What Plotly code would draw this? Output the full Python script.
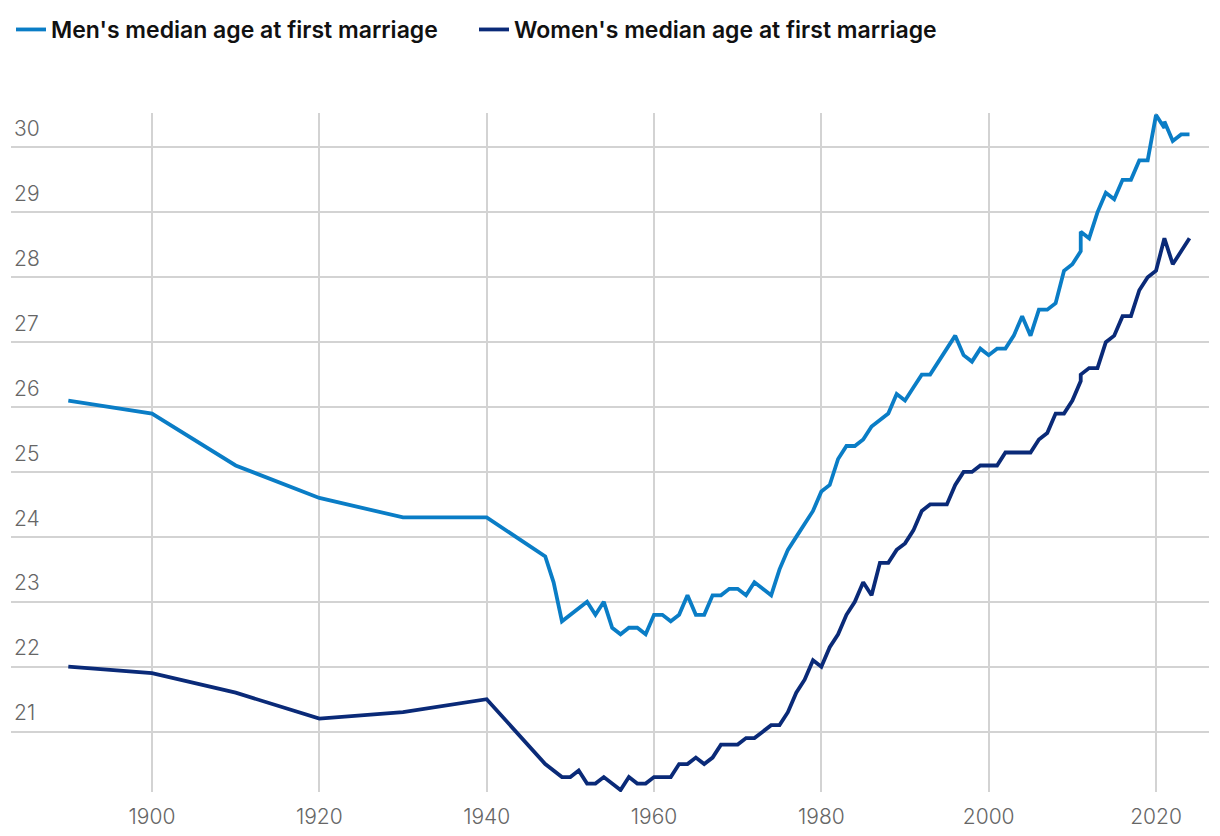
import plotly.graph_objects as go

years = [1890, 1900, 1910, 1920, 1930, 1940,
         1947, 1948, 1949, 1950, 1951, 1952, 1953, 1954, 1955, 1956, 1957, 1958, 1959,
         1960, 1961, 1962, 1963, 1964, 1965, 1966, 1967, 1968, 1969,
         1970, 1971, 1972, 1973, 1974, 1975, 1976, 1977, 1978, 1979,
         1980, 1981, 1982, 1983, 1984, 1985, 1986, 1987, 1988, 1989,
         1990, 1991, 1992, 1993, 1994, 1995, 1996, 1997, 1998, 1999,
         2000, 2001, 2002, 2003, 2004, 2005, 2006, 2007, 2008, 2009,
         2010, 2011, 2011, 2012, 2013, 2014, 2015, 2016, 2017, 2018, 2019,
         2020, 2021, 2021, 2022, 2023, 2024]

men = [26.1, 25.9, 25.1, 24.6, 24.3, 24.3,
       23.7, 23.3, 22.7, 22.8, 22.9, 23.0, 22.8, 23.0, 22.6, 22.5, 22.6, 22.6, 22.5,
       22.8, 22.8, 22.7, 22.8, 23.1, 22.8, 22.8, 23.1, 23.1, 23.2,
       23.2, 23.1, 23.3, 23.2, 23.1, 23.5, 23.8, 24.0, 24.2, 24.4,
       24.7, 24.8, 25.2, 25.4, 25.4, 25.5, 25.7, 25.8, 25.9, 26.2,
       26.1, 26.3, 26.5, 26.5, 26.7, 26.9, 27.1, 26.8, 26.7, 26.9,
       26.8, 26.9, 26.9, 27.1, 27.4, 27.1, 27.5, 27.5, 27.6, 28.1,
       28.2, 28.4, 28.7, 28.6, 29.0, 29.3, 29.2, 29.5, 29.5, 29.8, 29.8,
       30.5, 30.3, 30.4, 30.1, 30.2, 30.2]

women = [22.0, 21.9, 21.6, 21.2, 21.3, 21.5,
         20.5, 20.4, 20.3, 20.3, 20.4, 20.2, 20.2, 20.3, 20.2, 20.1, 20.3, 20.2, 20.2,
         20.3, 20.3, 20.3, 20.5, 20.5, 20.6, 20.5, 20.6, 20.8, 20.8,
         20.8, 20.9, 20.9, 21.0, 21.1, 21.1, 21.3, 21.6, 21.8, 22.1,
         22.0, 22.3, 22.5, 22.8, 23.0, 23.3, 23.1, 23.6, 23.6, 23.8,
         23.9, 24.1, 24.4, 24.5, 24.5, 24.5, 24.8, 25.0, 25.0, 25.1,
         25.1, 25.1, 25.3, 25.3, 25.3, 25.3, 25.5, 25.6, 25.9, 25.9,
         26.1, 26.4, 26.5, 26.6, 26.6, 27.0, 27.1, 27.4, 27.4, 27.8, 28.0,
         28.1, 28.6, 28.6, 28.2, 28.4, 28.6]

x_ticks = [1900, 1920, 1940, 1960, 1980, 2000, 2020]
y_ticks = [21, 22, 23, 24, 25, 26, 27, 28, 29, 30]

MEN_COLOR = "#0a7dc6"
WOMEN_COLOR = "#0a2a78"

fig = go.Figure()
fig.add_trace(go.Scatter(x=years, y=men, mode="lines",
                         name="Men's median age at first marriage",
                         line=dict(color=MEN_COLOR, width=3.8)))
fig.add_trace(go.Scatter(x=years, y=women, mode="lines",
                         name="Women's median age at first marriage",
                         line=dict(color=WOMEN_COLOR, width=3.8)))

fig.update_layout(
    width=1204, height=820,
    margin=dict(l=3, r=3, t=105, b=36, autoexpand=False),
    paper_bgcolor="white", plot_bgcolor="white",
    font=dict(family="Inter, sans-serif", color="#666666", size=20),
    showlegend=True,
    legend=dict(orientation="h", x=0, xanchor="left", y=1.0, yref="container",
                yanchor="top",
                font=dict(family="Inter, sans-serif", size=23, color="#111111", weight=600),
                entrywidth=418, entrywidthmode="pixels",
                itemwidth=30, tracegroupgap=0, bgcolor="rgba(0,0,0,0)"),
    hovermode=False,
)

fig.update_xaxes(range=[1883.15, 2026.33], tickvals=x_ticks, showgrid=True,
                 gridcolor="#d3d3d3", gridwidth=1.5, zeroline=False, showline=False,
                 ticks="outside", ticklen=6, tickcolor="rgba(0,0,0,0)",
                 tickfont=dict(size=21, color="#666666", weight=300))
fig.update_yaxes(range=[20.07, 30.53], tickvals=y_ticks, showgrid=True,
                 gridcolor="#d3d3d3", gridwidth=1.5, zeroline=False, showline=False,
                 ticklabelposition="inside top", ticks="", ticklabelshift=-4,
                 tickfont=dict(size=21, color="#666666", weight=300))

fig.write_html("out.html")
